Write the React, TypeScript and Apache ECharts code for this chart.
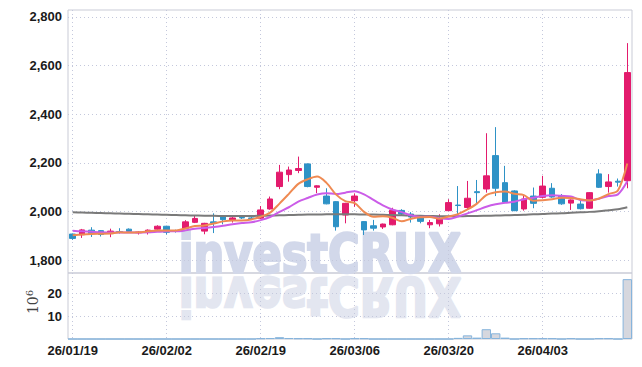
import React, { useEffect, useRef } from "react";
import * as echarts from "echarts";

const dates = [
  "26/01/19", "26/01/20", "26/01/21", "26/01/22", "26/01/23", "26/01/26", "26/01/27", "26/01/28", "26/01/29", "26/01/30",
  "26/02/02", "26/02/03", "26/02/04", "26/02/05", "26/02/06", "26/02/09", "26/02/10", "26/02/11", "26/02/12", "26/02/13",
  "26/02/19", "26/02/20", "26/02/23", "26/02/24", "26/02/25", "26/02/26", "26/02/27", "26/03/03", "26/03/04", "26/03/05",
  "26/03/06", "26/03/09", "26/03/10", "26/03/11", "26/03/12", "26/03/13", "26/03/16", "26/03/17", "26/03/18", "26/03/19",
  "26/03/20", "26/03/23", "26/03/24", "26/03/25", "26/03/26", "26/03/27", "26/03/30", "26/03/31", "26/04/01", "26/04/02",
  "26/04/03", "26/04/06", "26/04/07", "26/04/08", "26/04/09", "26/04/10", "26/04/13", "26/04/14", "26/04/15", "26/04/16",
];

const opens = [
  1908, 1905, 1924, 1922, 1910, 1918, 1928, 1913, 1914, 1928,
  1940, 1922, 1932, 1956, 1920, 1958, 1980, 1966, 1976, 1974,
  1973, 2011, 2103, 2152, 2169, 2196, 2100, 2064, 2041, 1986,
  2045, 1959, 1942, 1937, 1946, 2005, 1990, 1980, 1946, 1950,
  2004, 2027, 2017, 2082, 2093, 2230, 2119, 2085, 2011, 2064,
  2059, 2096, 2066, 2035, 2031, 2014, 2155, 2103, 2125, 2127,
];
const closes = [
  1890, 1925, 1910, 1906, 1920, 1915, 1919, 1916, 1924, 1940,
  1915, 1920, 1958, 1972, 1952, 1953, 1967, 1974, 1974, 1972,
  2007, 2052, 2162, 2171, 2177, 2103, 2106, 2032, 1938, 2034,
  2064, 1925, 1932, 1949, 2006, 1990, 1978, 1960, 1955, 1972,
  2037, 2025, 2055, 2078, 2147, 2096, 2039, 2004, 2052, 2034,
  2105, 2060, 2032, 2048, 2012, 2078, 2100, 2122, 2121, 2571,
];
const lows = [
  1884, 1892, 1896, 1898, 1895, 1910, 1914, 1906, 1906, 1925,
  1906, 1914, 1930, 1953, 1907, 1912, 1948, 1955, 1970, 1968,
  1970, 2008, 2092, 2123, 2158, 2100, 2076, 2030, 1922, 1952,
  2020, 1904, 1922, 1929, 1944, 1984, 1955, 1952, 1932, 1939,
  2002, 1990, 2010, 2034, 2078, 2064, 2036, 2002, 2004, 2014,
  2055, 2057, 2028, 2007, 2009, 2012, 2097, 2078, 2103, 2096,
];
const highs = [
  1910, 1929, 1936, 1924, 1930, 1932, 1931, 1920, 1927, 1944,
  1942, 1926, 1965, 1984, 1954, 1993, 1986, 1980, 1985, 1978,
  2023, 2062, 2192, 2185, 2226, 2198, 2108, 2096, 2043, 2036,
  2075, 1961, 1966, 1951, 2016, 2010, 1998, 1982, 1966, 1989,
  2051, 2105, 2126, 2130, 2322, 2347, 2188, 2088, 2069, 2099,
  2147, 2117, 2072, 2050, 2045, 2080, 2174, 2154, 2136, 2692,
];

const ma5 = [
  1903, 1906, 1908, 1909, 1910, 1915, 1914, 1915, 1919, 1923,
  1923, 1923, 1931, 1941, 1943, 1951, 1960, 1964, 1964, 1968,
  1979, 1996, 2033, 2073, 2114, 2133, 2144, 2118, 2071, 2043,
  2035, 1999, 1979, 1981, 1975, 1960, 1971, 1977, 1978, 1971,
  1980, 1990, 2009, 2033, 2068, 2080, 2083, 2073, 2068, 2045,
  2047, 2051, 2057, 2056, 2051, 2046, 2054, 2072, 2087, 2198,
];
const ma10 = [
  1921, 1919, 1917, 1915, 1914, 1914, 1914, 1914, 1915, 1917,
  1919, 1919, 1923, 1930, 1933, 1937, 1942, 1948, 1953, 1956,
  1965, 1978, 1999, 2018, 2041, 2056, 2070, 2076, 2072, 2078,
  2084, 2071, 2048, 2026, 2009, 1998, 1985, 1978, 1979, 1973,
  1970, 1980, 1993, 2006, 2020, 2030, 2036, 2041, 2051, 2057,
  2064, 2067, 2065, 2062, 2048, 2046, 2053, 2064, 2071, 2125,
];
const maLong = [
  1997, 1996, 1995, 1994, 1993, 1992, 1991, 1990, 1989, 1988,
  1987, 1986, 1985, 1984, 1983, 1983, 1982, 1982, 1982, 1982,
  1983, 1984, 1985, 1986, 1987, 1988, 1988, 1989, 1989, 1989,
  1989, 1988, 1988, 1987, 1986, 1985, 1984, 1983, 1982, 1981,
  1981, 1981, 1982, 1982, 1983, 1984, 1985, 1986, 1987, 1989,
  1990, 1992, 1993, 1995, 1997, 1999, 2002, 2006, 2010, 2018,
];

// volume in millions (10^6)
const volumes = [
  0, 0, 0, 0, 0, 0, 0, 0, 0, 0,
  0, 0, 0, 0, 0, 0, 0, 0, 0, 0,
  0.3, 0.4, 0.8, 0.4, 0.3, 0.3, 0, 0.3, 0.3, 0,
  0.3, 0.3, 0, 0, 0, 0, 0, 0, 0, 0,
  0, 0.5, 1.6, 0.6, 4.3, 2.5, 0.6, 0, 0.3, 0.3,
  0.3, 0.3, 0, 0.3, 0, 0, 0.3, 0.3, 0, 26.3,
];

const priceTicks = [1800, 2000, 2200, 2400, 2600, 2800];
const volumeTicks = [10, 20];

const UP = "#e31b6d";
const DOWN = "#2e92c6";
const GRID_LINE = { color: "#c4c8dc", type: [1, 3] as any, width: 1 };
const LABEL_FONT = "'Liberation Sans', Arial, sans-serif";

export default function App() {
  const ref = useRef<HTMLDivElement>(null);

  useEffect(() => {
    if (!ref.current) return;
    const chart = echarts.init(ref.current, undefined, { renderer: "svg" });

    const candleData = opens.map((o, i) => [o, closes[i], lows[i], highs[i]]);
    const wm = "investCRUX";
    const wmStyle = {
      text: wm,
      align: "center",
      verticalAlign: "middle",
      fontSize: 54,
      fontWeight: "bold",
      fontFamily: "'DejaVu Sans', sans-serif",
      lineWidth: 2.5,
    };
    const labelStyle = {
      color: "#1a1a1a",
      fontSize: 13,
      fontWeight: "bold",
      fontFamily: LABEL_FONT,
    };

    const xBase = {
      type: "category",
      data: dates,
      boundaryGap: true,
      axisLine: { show: false },
      axisTick: { show: false, interval: 9, alignWithLabel: true },
      splitLine: { show: true, interval: 9, alignWithLabel: true, lineStyle: GRID_LINE },
    };

    const option: any = {
      animation: false,
      backgroundColor: "#ffffff",
      grid: [
        { left: 68, right: 10, top: 10, height: 263, show: true, borderColor: "#c9cbd6", borderWidth: 1, backgroundColor: "transparent" },
        { left: 68, right: 10, top: 273, height: 66, show: true, borderColor: "#c9cbd6", borderWidth: 1, backgroundColor: "transparent" },
      ],
      xAxis: [
        { ...xBase, gridIndex: 0, axisLabel: { show: false, interval: 9 } },
        {
          ...xBase,
          gridIndex: 1,
          axisLabel: { show: true, interval: 9, margin: 5, ...labelStyle },
        },
      ],
      yAxis: [
        {
          type: "value",
          gridIndex: 0,
          min: 1748,
          max: 2828,
          axisLine: { show: false },
          axisTick: { show: false, customValues: priceTicks },
          axisLabel: {
            customValues: priceTicks,
            margin: 6,
            ...labelStyle,
            formatter: (v: number) => v.toLocaleString("en-US"),
          },
          splitLine: { show: true, lineStyle: GRID_LINE },
        },
        {
          type: "value",
          gridIndex: 1,
          min: 0,
          max: 29,
          axisLine: { show: false },
          axisTick: { show: false, customValues: volumeTicks },
          axisLabel: { customValues: volumeTicks, margin: 6, ...labelStyle },
          splitLine: { show: true, lineStyle: GRID_LINE },
        },
      ],
      graphic: [
        {
          type: "group",
          x: 320,
          y: 273,
          z: -10,
          silent: true,
          children: [
            { type: "text", x: 0, y: -19, scaleX: 0.8, style: { ...wmStyle, fill: "#d2d8ea", stroke: "#d2d8ea" } },
          ],
        },
        {
          type: "group",
          x: 320,
          y: 277,
          scaleY: -1,
          z: -10,
          silent: true,
          children: [
            { type: "text", x: 0, y: -19, scaleX: 0.8, style: { ...wmStyle, fill: "#e3e6f0", stroke: "#e3e6f0" } },
          ],
        },
        {
          type: "text",
          x: 33,
          y: 302,
          rotation: Math.PI / 2,
          style: {
            text: "{a|10}{b|6}",
            align: "center",
            verticalAlign: "middle",
            fill: "#444",
            rich: {
              a: { fontSize: 14, fontFamily: "'DejaVu Serif', serif", fill: "#444" },
              b: { fontSize: 10, fontFamily: "'DejaVu Serif', serif", fill: "#444", verticalAlign: "top", padding: [0, 0, 8, 0] },
            },
          },
        },
      ],
      series: [
        {
          type: "candlestick",
          xAxisIndex: 0,
          yAxisIndex: 0,
          data: candleData,
          barWidth: 6,
          itemStyle: {
            color: UP,
            color0: DOWN,
            borderColor: UP,
            borderColor0: DOWN,
            borderWidth: 1,
          },
          z: 3,
        },
        {
          type: "line",
          xAxisIndex: 0,
          yAxisIndex: 0,
          data: maLong,
          symbol: "none",
          smooth: 0.3,
          lineStyle: { color: "#7a7a7a", width: 2 },
          z: 4,
        },
        {
          type: "line",
          xAxisIndex: 0,
          yAxisIndex: 0,
          data: ma10,
          symbol: "none",
          smooth: 0.3,
          lineStyle: { color: "#cb5ce8", width: 2 },
          z: 4,
        },
        {
          type: "line",
          xAxisIndex: 0,
          yAxisIndex: 0,
          data: ma5,
          symbol: "none",
          smooth: 0.3,
          lineStyle: { color: "#ef8a52", width: 2 },
          z: 5,
        },
        {
          type: "bar",
          xAxisIndex: 1,
          yAxisIndex: 1,
          data: volumes,
          barWidth: "100%",
          barCategoryGap: 0,
          itemStyle: { color: "#d6d7de", borderColor: "#86b4dc", borderWidth: 1 },
        },
      ],
    };

    chart.setOption(option);
    return () => chart.dispose();
  }, []);

  return <div ref={ref} style={{ width: 642, height: 367, margin: -8 }} />;
}
